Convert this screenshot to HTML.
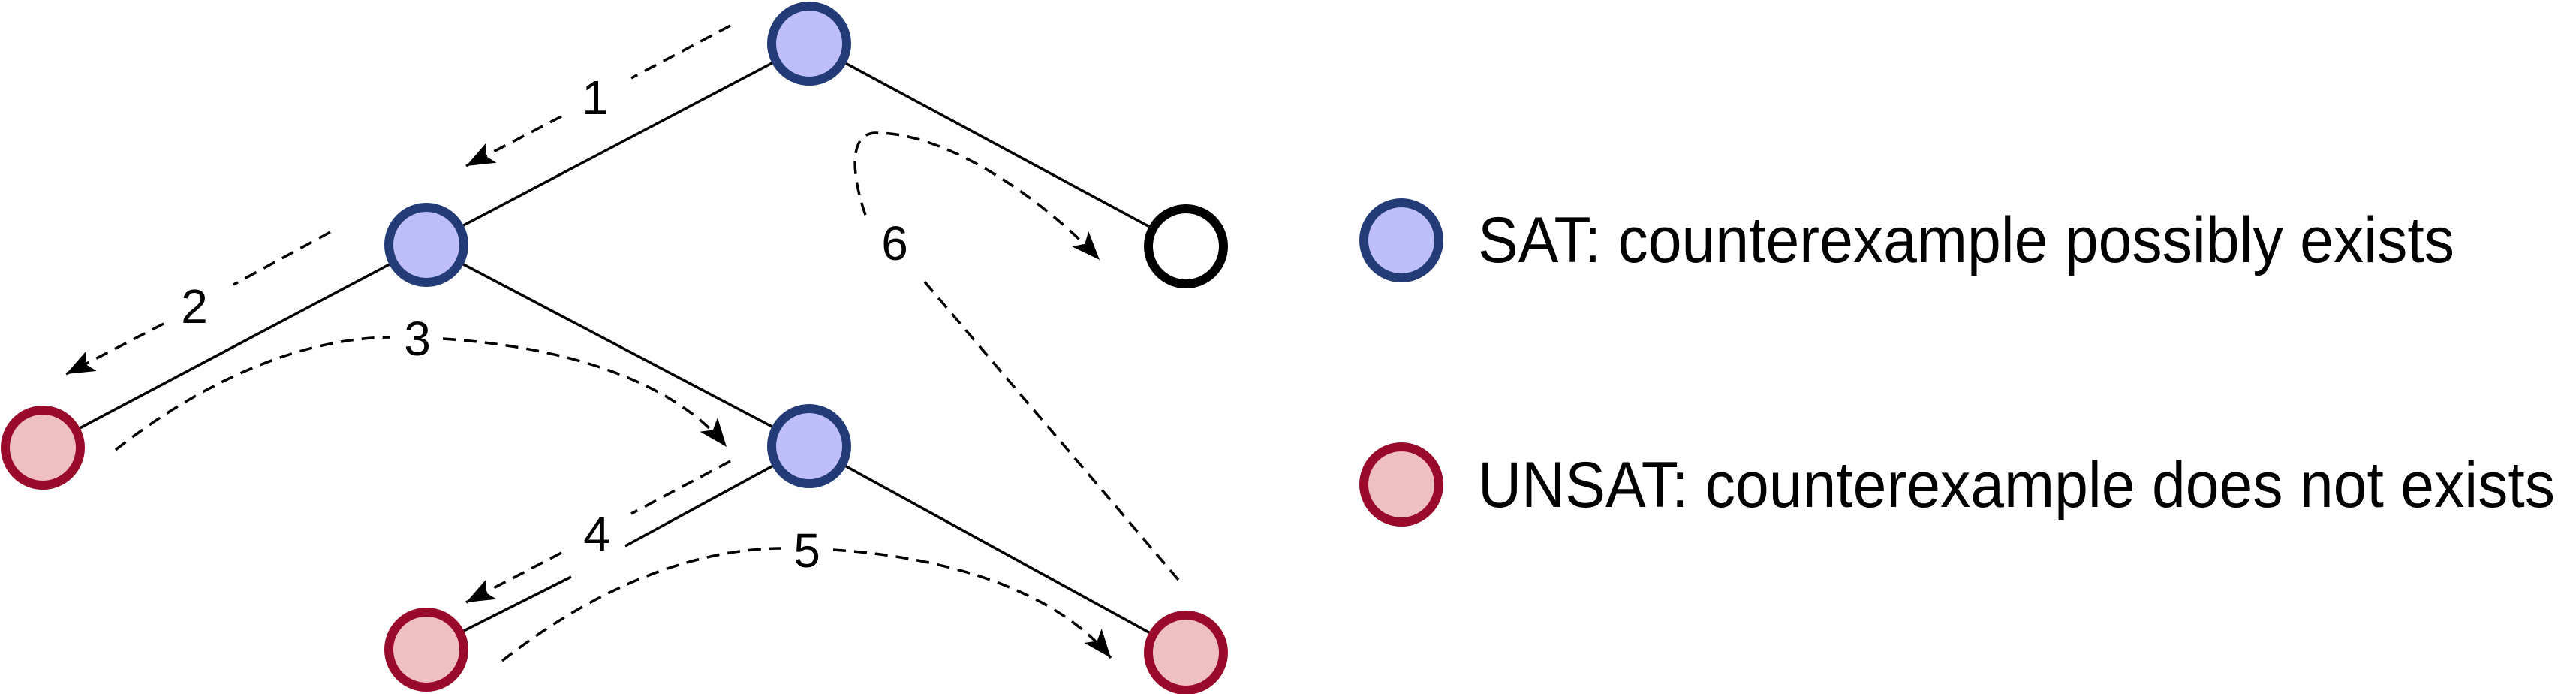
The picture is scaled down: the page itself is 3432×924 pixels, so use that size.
<!DOCTYPE html>
<html><head><meta charset="utf-8"><style>
html,body{margin:0;padding:0;background:#fff;}
svg{display:block;}
text{font-family:"Liberation Sans",Arial,sans-serif;fill:#000;}
</style></head><body>
<svg width="3432" height="924" viewBox="0 0 3432 924" xmlns="http://www.w3.org/2000/svg">
<defs>
<marker id="ah" markerUnits="userSpaceOnUse" markerWidth="44" markerHeight="34" refX="38" refY="15" orient="auto">
<path d="M0,0 L38,15 L0,30 L9,15 Z" fill="#000"/>
</marker>
</defs>
<g stroke="#000" stroke-width="3.5" fill="none">
<line x1="1078" y1="58" x2="568" y2="326"/>
<line x1="1078" y1="58" x2="1580" y2="328"/>
<line x1="568" y1="326" x2="57" y2="596"/>
<line x1="568" y1="326" x2="1078" y2="594"/>
<line x1="1078" y1="594" x2="833" y2="727"/>
<line x1="761" y1="768" x2="568" y2="865"/>
<line x1="1078" y1="594" x2="1580" y2="869"/>
</g>
<g stroke="#000" stroke-width="3.5" fill="none" stroke-dasharray="17 11">
<line x1="973" y1="34" x2="841" y2="104"/>
<line x1="748" y1="155" x2="621" y2="221" marker-end="url(#ah)"/>
<line x1="440" y1="309" x2="311" y2="379"/>
<line x1="218" y1="431" x2="88" y2="498" marker-end="url(#ah)"/>
<path d="M154,599 C280,500 410,450 520,449"/>
<path d="M590,451 C760,462 900,510 968,595" marker-end="url(#ah)"/>
<line x1="973" y1="614" x2="841" y2="684"/>
<line x1="748" y1="736" x2="621" y2="802" marker-end="url(#ah)"/>
<path d="M669,880 C795,781 925,731 1040,730"/>
<path d="M1110,732 C1270,742 1410,790 1480,876" marker-end="url(#ah)"/>
<line x1="1570" y1="772" x2="1230" y2="373"/>
<path d="M1153,286 C1140,250 1125,180 1165,177 C1260,175 1390,265 1465,346" marker-end="url(#ah)"/>
</g>
<g font-size="64" text-anchor="middle">
<text x="793" y="152">1</text>
<text x="259" y="430">2</text>
<text x="556" y="473">3</text>
<text x="795" y="733">4</text>
<text x="1075" y="755">5</text>
<text x="1192" y="346">6</text>
</g>
<g stroke-width="12">
<circle cx="1078" cy="58" r="50" fill="#bebefa" stroke="#233c77"/>
<circle cx="568" cy="326" r="50" fill="#bebefa" stroke="#233c77"/>
<circle cx="1078" cy="594" r="50" fill="#bebefa" stroke="#233c77"/>
<circle cx="57" cy="596" r="50" fill="#efc0c0" stroke="#9a0b2b"/>
<circle cx="568" cy="865" r="50" fill="#efc0c0" stroke="#9a0b2b"/>
<circle cx="1580" cy="869" r="50" fill="#efc0c0" stroke="#9a0b2b"/>
<circle cx="1580" cy="328" r="50" fill="#fff" stroke="#000"/>
<circle cx="1867" cy="320" r="50" fill="#bebefa" stroke="#233c77"/>
<circle cx="1867" cy="645" r="50" fill="#efc0c0" stroke="#9a0b2b"/>
</g>
<text x="1969" y="349" font-size="86" textLength="1301" lengthAdjust="spacingAndGlyphs">SAT: counterexample possibly exists</text>
<text x="1969" y="675" font-size="86" textLength="1435" lengthAdjust="spacingAndGlyphs">UNSAT: counterexample does not exists</text>
</svg>
</body></html>
